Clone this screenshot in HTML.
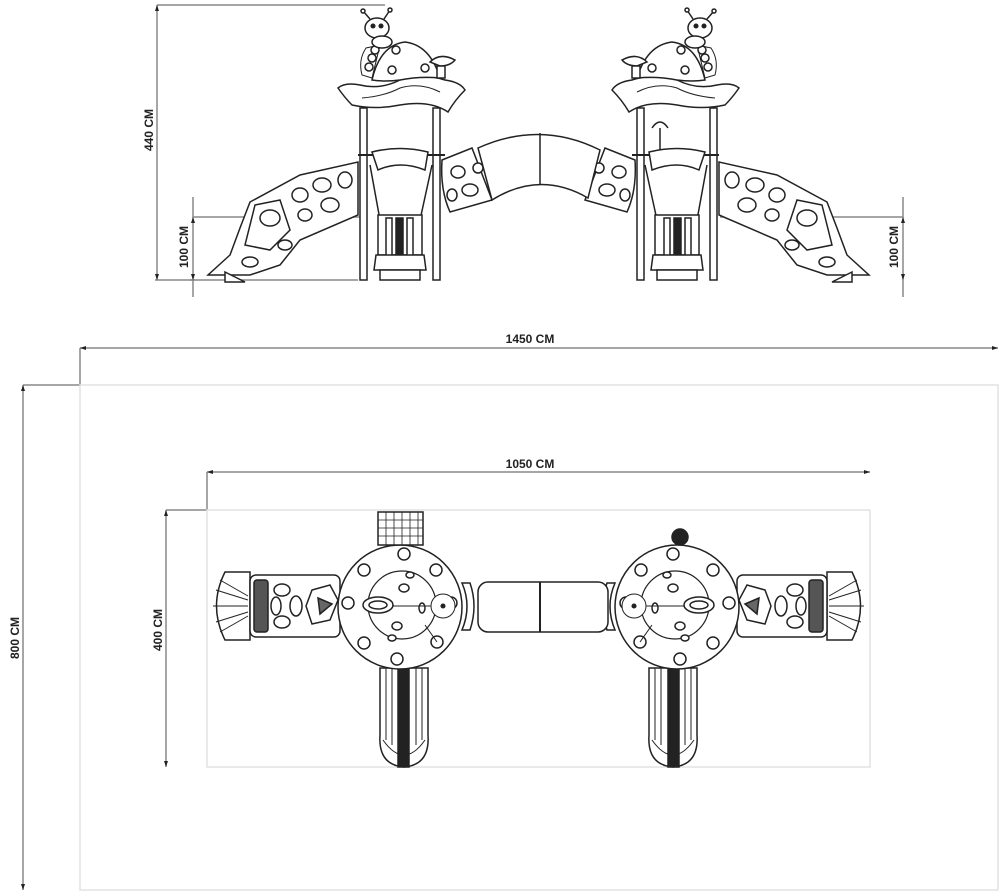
<!DOCTYPE html>
<html><head><style>
html,body{margin:0;padding:0;background:#fff;}
svg{display:block;}
text{font-family:"Liberation Sans",sans-serif;font-weight:bold;font-size:12px;fill:#222;}
</style></head><body>
<svg width="1000" height="895" viewBox="0 0 1000 895" xmlns="http://www.w3.org/2000/svg">
<defs>
<g id="plantower" stroke="#222" fill="#fff" stroke-width="1.5">
  <!-- left slide -->
  <path d="M225,572 L250,572 L250,640 L225,640 Q208,606 225,572 Z"/>
  <path d="M213,606 L248,606 M216,590 L248,600 M216,622 L248,612 M220,580 L248,596 M220,632 L248,616" stroke-width="1"/>
  <rect x="250" y="575" width="90" height="62" rx="6"/>
  <rect x="254" y="580" width="14" height="52" rx="3" fill="#555"/>
  <ellipse cx="282" cy="590" rx="8" ry="6"/><ellipse cx="282" cy="622" rx="8" ry="6"/>
  <ellipse cx="296" cy="606" rx="6" ry="10"/><ellipse cx="276" cy="606" rx="5" ry="9"/>
  <path d="M312,590 L330,585 L338,600 L330,620 L312,624 L306,606 Z"/>
  <path d="M318,598 L332,604 L320,614 Z" fill="#666"/>
  <!-- bottom slide -->
  <path d="M380,668 L380,735 Q378,765 404,767 Q430,765 428,735 L428,668 Z"/>
  <path d="M386,668 L386,740 M422,668 L422,740 M392,668 L392,745 M416,668 L416,745" stroke-width="1"/>
  <rect x="398" y="668" width="11" height="99" fill="#222"/>
  <path d="M383,740 Q404,770 425,740" fill="none" stroke-width="1"/>
  <!-- platform -->
  <circle cx="400" cy="607" r="62"/>
  <circle cx="402" cy="605" r="34" fill="none" stroke-width="1.2"/>
  <circle cx="404" cy="554" r="6"/><circle cx="436" cy="570" r="6"/><circle cx="451" cy="603" r="6"/>
  <circle cx="437" cy="642" r="6"/><circle cx="397" cy="659" r="6"/><circle cx="364" cy="643" r="6"/>
  <circle cx="348" cy="603" r="6"/><circle cx="364" cy="570" r="6"/>
  <ellipse cx="404" cy="588" rx="5" ry="4"/><ellipse cx="397" cy="626" rx="5" ry="4"/>
  <ellipse cx="422" cy="608" rx="3" ry="5"/><ellipse cx="410" cy="575" rx="4" ry="3"/><ellipse cx="392" cy="638" rx="4" ry="3"/>
  <ellipse cx="378" cy="605" rx="15" ry="8"/><ellipse cx="378" cy="605" rx="9" ry="4"/>
  <path d="M392,606 L433,606 M425,625 L437,642" stroke-width="1"/>
  <circle cx="443" cy="606" r="12" stroke-width="1"/><circle cx="443" cy="606" r="1.8" fill="#222"/>
  <!-- connector -->
  <path d="M462,583 Q472,606 462,630 L470,630 Q478,606 470,583 Z"/>
</g>
<g id="sidetower" stroke="#222" fill="#fff" stroke-width="1.5">
  <!-- slide -->
  <path d="M358,162 L358,215 L300,240 L280,265 L250,275 L208,275 L230,255 L240,228 L250,202 L300,175 Z"/>
  <path d="M255,205 L280,200 L290,230 L270,250 L245,245 Z"/>
  <ellipse cx="270" cy="218" rx="10" ry="8"/><ellipse cx="300" cy="195" rx="8" ry="7"/><ellipse cx="322" cy="185" rx="9" ry="7"/>
  <ellipse cx="330" cy="205" rx="9" ry="7"/><ellipse cx="305" cy="215" rx="7" ry="6"/><ellipse cx="345" cy="180" rx="7" ry="8"/>
  <ellipse cx="285" cy="245" rx="7" ry="5"/><ellipse cx="250" cy="262" rx="8" ry="5"/>
  <path d="M225,272 L245,282 L225,282 Z"/>
  <!-- posts -->
  <rect x="360" y="108" width="7" height="172"/><rect x="433" y="108" width="7" height="172"/>
  <!-- roof -->
  <path d="M338,88 Q345,82 360,85 Q380,90 400,80 Q420,72 445,80 Q460,82 465,90 Q455,100 448,112 Q430,100 400,105 Q375,110 352,105 Q345,98 338,88 Z"/>
  <path d="M362,98 Q385,96 400,88 Q420,82 440,92" fill="none" stroke-width="1"/>
  <path d="M372,80 Q380,45 405,42 Q430,45 440,78 Q420,76 400,80 Q385,82 372,80 Z"/>
  <circle cx="396" cy="50" r="4"/><circle cx="392" cy="70" r="4"/><circle cx="425" cy="68" r="4"/>
  <!-- mushroom -->
  <path d="M430,62 Q440,52 455,60 Q450,66 440,66 Z"/><rect x="437" y="66" width="8" height="12"/>
  <!-- caterpillar -->
  <path d="M362,75 Q358,60 366,48 L380,45 L372,78 Z" stroke-width="1"/>
  <circle cx="372" cy="58" r="4"/><circle cx="369" cy="67" r="4"/><circle cx="375" cy="50" r="4"/>
  <ellipse cx="377" cy="28" rx="12" ry="10"/><circle cx="373" cy="26" r="1.8" fill="#222"/><circle cx="381" cy="26" r="1.8" fill="#222"/>
  <ellipse cx="382" cy="42" rx="10" ry="6"/>
  <path d="M370,19 L363,11 M384,19 L390,10" fill="none"/>
  <circle cx="363" cy="11" r="2"/><circle cx="390" cy="10" r="2"/>
  <!-- deck / climber -->
  <path d="M358,155 L445,155" stroke-width="2"/>
  <path d="M372,152 Q400,145 428,152 L425,170 Q400,160 378,170 Z"/>
  <path d="M370,165 L380,220 L420,220 L432,165" fill="none"/>
  <rect x="378" y="215" width="44" height="40"/>
  <rect x="386" y="218" width="6" height="38"/><rect x="396" y="218" width="7" height="40" fill="#222"/><rect x="407" y="218" width="6" height="38"/>
  <path d="M376,255 L424,255 L426,270 L374,270 Z"/><rect x="380" y="270" width="40" height="10"/>
  <!-- tube side -->
  <path d="M442,160 L472,148 L492,200 L450,212 Q440,190 442,160 Z"/>
  <ellipse cx="458" cy="172" rx="7" ry="6"/><ellipse cx="470" cy="190" rx="8" ry="6"/><ellipse cx="452" cy="195" rx="5" ry="6"/><ellipse cx="478" cy="168" rx="5" ry="5"/>
</g>
</defs>

<g stroke="#888" stroke-width="1.5" fill="none">
  <!-- 440 -->
  <path d="M157,5 L157,280 M157,5 L385,5 M155,280 L358,280"/>
  <!-- 100 left -->
  <path d="M193,197 L193,297 M193,217 L360,217 M190,280 L195,280"/>
  <!-- 100 right -->
  <path d="M903,197 L903,297 M720,217 L903,217"/>
  <!-- 1450 -->
  <path d="M80,348 L998,348 M80,348 L80,385"/>
  <!-- 800 -->
  <path d="M23,385 L23,890 M23,385 L80,385"/>
  <!-- 1050 -->
  <path d="M207,472 L870,472 M207,472 L207,510"/>
  <!-- 400 -->
  <path d="M166,510 L166,767 M166,510 L207,510"/>
</g>
<g stroke="#e2e2e2" stroke-width="1.5" fill="none">
  <rect x="80" y="385" width="918" height="505"/>
  <rect x="207" y="510" width="663" height="257"/>
</g>
<g fill="#222">
  <path d="M157,5 l-2,6 l4,0 z M157,280 l-2,-6 l4,0 z M193,217 l-2,6 l4,0z M193,280 l-2,-6 l4,0z M903,217 l-2,6 l4,0z M903,280 l-2,-6 l4,0z
  M80,348 l6,-2 l0,4z M998,348 l-6,-2 l0,4z M23,385 l-2,6 l4,0z M23,890 l-2,-6 l4,0z M207,472 l6,-2 l0,4z M870,472 l-6,-2 l0,4z M166,510 l-2,6 l4,0z M166,767 l-2,-6 l4,0z"/>
</g>

<text x="530" y="343" text-anchor="middle">1450 CM</text>
<text x="530" y="468" text-anchor="middle">1050 CM</text>
<text transform="translate(153,130) rotate(-90)" text-anchor="middle">440 CM</text>
<text transform="translate(188,247) rotate(-90)" text-anchor="middle">100 CM</text>
<text transform="translate(898,247) rotate(-90)" text-anchor="middle">100 CM</text>
<text transform="translate(19,638) rotate(-90)" text-anchor="middle">800 CM</text>
<text transform="translate(162,630) rotate(-90)" text-anchor="middle">400 CM</text>

<!-- side view -->
<use href="#sidetower"/>
<use href="#sidetower" transform="translate(1077,0) scale(-1,1)"/>
<g stroke="#222" fill="#fff" stroke-width="1.5">
  <path d="M478,148 Q540,120 600,150 L588,198 Q540,170 492,200 Z"/>
  <path d="M540,133 L540,185"/>
  <path d="M660,128 L660,150 M652,128 Q660,116 668,128" fill="none"/>
</g>

<!-- plan view -->
<use href="#plantower"/>
<use href="#plantower" transform="translate(1077,0) scale(-1,1)"/>
<g stroke="#222" fill="#fff" stroke-width="1.5">
  <rect x="378" y="512" width="45" height="33"/>
  <path d="M378,520 L423,520 M378,528 L423,528 M378,536 L423,536 M386,512 L386,545 M394,512 L394,545 M402,512 L402,545 M410,512 L410,545 M418,512 L418,545" stroke-width="0.8"/>
  <rect x="478" y="582" width="130" height="50" rx="10"/>
  <path d="M540,582 L540,632" stroke-width="2"/>
  <circle cx="680" cy="537" r="8" fill="#222"/>
</g>
</svg>
</body></html>
